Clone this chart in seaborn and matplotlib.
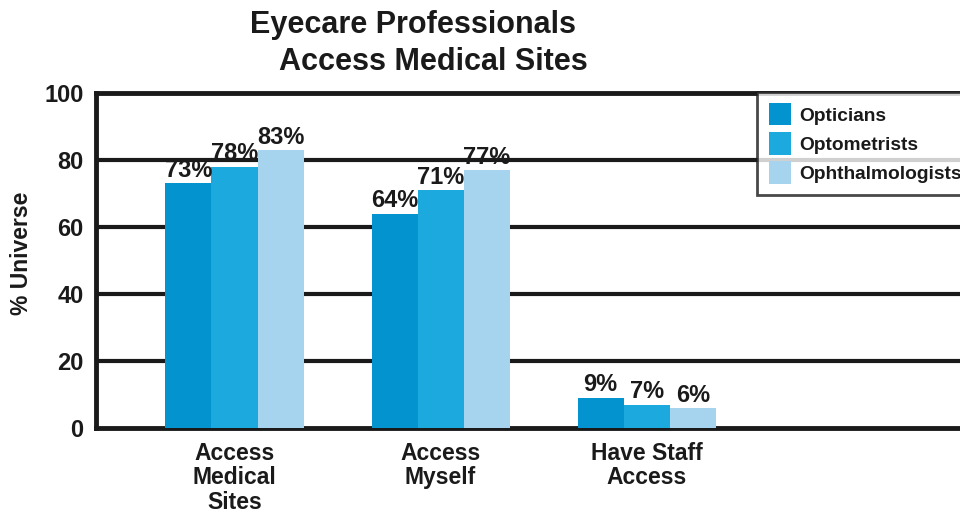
import matplotlib
matplotlib.use("Agg")
import matplotlib.pyplot as plt
import pandas as pd
import seaborn as sns

# Survey results (% of universe)
categories = ["Access\nMedical\nSites", "Access\nMyself", "Have Staff\nAccess"]
groups = ["Opticians", "Optometrists", "Ophthalmologists"]
opticians = [73, 64, 9]
optometrists = [78, 71, 7]
ophthalmologists = [83, 77, 6]
palette = ["#0394D0", "#1CA9DE", "#A6D4EE"]

rows = []
for g, vals in zip(groups, [opticians, optometrists, ophthalmologists]):
    for c, v in zip(categories, vals):
        rows.append({"category": c, "group": g, "value": v})
df = pd.DataFrame(rows)

sns.set_theme(style="white")
plt.rcParams["font.family"] = ["Liberation Sans", "DejaVu Sans"]
plt.rcParams["font.weight"] = "bold"
ink = "#1a1a1a"

fig = plt.figure(figsize=(9.6, 5.16), dpi=100)
ax = fig.add_axes([0.1, 0.1705, 0.9, 0.6493])

sns.barplot(data=df, x="category", y="value", hue="group", hue_order=groups,
            palette=palette, width=0.67, saturation=1, ax=ax, legend=True,
            edgecolor="none", zorder=3)

ax.set_xlim(-0.672, 3.52)
ax.set_ylim(0, 100)
ax.set_yticks([0, 20, 40, 60, 80, 100])
for y in [20, 40, 60, 80]:
    ax.axhline(y, color=ink, lw=3, zorder=1)
for side in ["left", "bottom", "top"]:
    ax.spines[side].set_visible(True)
    ax.spines[side].set_color(ink)
    ax.spines[side].set_linewidth(3.5)
ax.spines["right"].set_visible(False)
ax.tick_params(axis="both", length=0)
ax.tick_params(axis="y", labelsize=17, pad=9, colors=ink)
ax.tick_params(axis="x", pad=10, colors=ink)
for lab in ax.get_yticklabels():
    lab.set_fontweight("bold")
for lab in ax.get_xticklabels():
    lab.set_fontsize(16.5)
    lab.set_fontweight("bold")
    lab.set_linespacing(1.08)

ax.set_xlabel("")
ax.set_ylabel("% Universe", fontsize=16.5, fontweight="bold", color=ink)
ax.yaxis.set_label_coords(-0.073, 0.522)

# value labels on bars
for cont in ax.containers:
    ax.bar_label(cont, labels=[f"{int(v)}%" for v in cont.datavalues],
                 fontsize=17, fontweight="bold", color=ink, padding=1)

fig.text(0.430, 0.936, "Eyecare Professionals", ha="center", va="baseline",
         fontsize=22, fontweight="bold", color=ink)
fig.text(0.451, 0.864, "Access Medical Sites", ha="center", va="baseline",
         fontsize=22, fontweight="bold", color=ink)

leg = ax.legend(loc="upper left", bbox_to_anchor=(0.789, 0.822),
                bbox_transform=fig.transFigure, frameon=True, fancybox=False,
                borderaxespad=0, handlelength=1.13, handleheight=1.4,
                handletextpad=0.46, labelspacing=0.36, borderpad=0.6,
                prop={"weight": "bold", "size": 13.8})
leg.get_frame().set_edgecolor(ink)
leg.get_frame().set_linewidth(2)
leg.set_zorder(10)
for t in leg.get_texts():
    t.set_color(ink)

fig.savefig("out.png", dpi=100)
